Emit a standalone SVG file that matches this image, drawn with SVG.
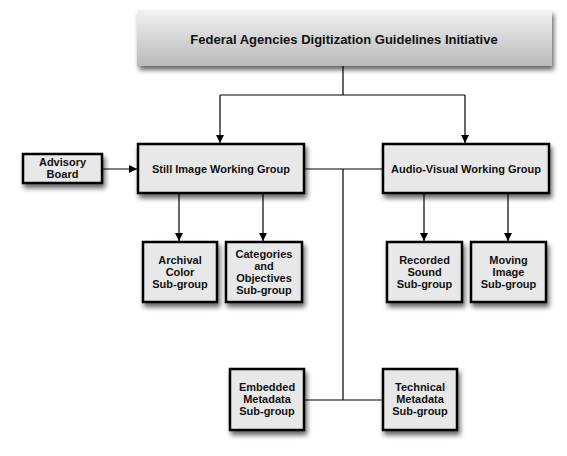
<svg xmlns="http://www.w3.org/2000/svg" width="567" height="456" viewBox="0 0 567 456">
<defs>
<linearGradient id="g" x1="0" y1="0" x2="0" y2="1"><stop offset="0" stop-color="#f2f2f2"/><stop offset="1" stop-color="#b9b9b9"/></linearGradient>
<filter id="sh" x="-20%" y="-20%" width="150%" height="160%"><feGaussianBlur in="SourceAlpha" stdDeviation="2.5"/><feOffset dx="2" dy="4"/><feComponentTransfer><feFuncA type="linear" slope="0.6"/></feComponentTransfer><feMerge><feMergeNode/><feMergeNode in="SourceGraphic"/></feMerge></filter>
<marker id="ah" viewBox="0 0 10 10" refX="10" refY="5" markerWidth="8" markerHeight="8" markerUnits="userSpaceOnUse" orient="auto"><path d="M0,0 L10,5 L0,10 z" fill="#000"/></marker>
<style>
.box{fill:#e8e8e8;stroke:#000;stroke-width:2.5;filter:url(#sh)}
.t{font-family:"Liberation Sans",Arial,sans-serif;font-weight:bold;font-size:11px;fill:#111;text-anchor:middle}
.c{fill:none;stroke:#000;stroke-width:1.2}
.a{marker-end:url(#ah)}
</style>
</defs>
<g id="connectors">
<path class="c" d="M343,66 V95"/>
<path class="c" d="M220,95 H465"/>
<path class="c a" d="M220,95 V143"/>
<path class="c a" d="M465,95 V143"/>
<path class="c a" d="M102,169 H137"/>
<path class="c" d="M304,169 H383"/>
<path class="c" d="M343,169 V400"/>
<path class="c" d="M304,400 H383"/>
<path class="c a" d="M179,194 V241"/>
<path class="c a" d="M263,194 V241"/>
<path class="c a" d="M424,194 V241"/>
<path class="c a" d="M508,194 V241"/>
</g>
<g id="fadgi">
<rect x="137" y="10" width="415" height="56" fill="url(#g)" filter="url(#sh)"/>
<text class="t" x="344" y="44" style="font-size:13px">Federal Agencies Digitization Guidelines Initiative</text>
</g>
<g id="advisory">
<rect class="box" x="23" y="154" width="79" height="29"/>
<text class="t" x="62.5" y="166">Advisory</text>
<text class="t" x="62.5" y="178">Board</text>
</g>
<g id="still">
<rect class="box" x="138" y="144" width="166" height="49"/>
<text class="t" x="221" y="173">Still Image Working Group</text>
</g>
<g id="av">
<rect class="box" x="383" y="144" width="166" height="49"/>
<text class="t" x="466" y="173">Audio-Visual Working Group</text>
</g>
<g id="archival">
<rect class="box" x="143" y="242" width="74" height="60"/>
<text class="t" x="180" y="264">Archival</text>
<text class="t" x="180" y="276">Color</text>
<text class="t" x="180" y="288">Sub-group</text>
</g>
<g id="categories">
<rect class="box" x="226" y="242" width="76" height="60"/>
<text class="t" x="264" y="258">Categories</text>
<text class="t" x="264" y="270">and</text>
<text class="t" x="264" y="282">Objectives</text>
<text class="t" x="264" y="294">Sub-group</text>
</g>
<g id="recorded">
<rect class="box" x="387" y="242" width="75" height="60"/>
<text class="t" x="424.5" y="264">Recorded</text>
<text class="t" x="424.5" y="276">Sound</text>
<text class="t" x="424.5" y="288">Sub-group</text>
</g>
<g id="moving">
<rect class="box" x="471" y="242" width="75" height="60"/>
<text class="t" x="508.5" y="264">Moving</text>
<text class="t" x="508.5" y="276">Image</text>
<text class="t" x="508.5" y="288">Sub-group</text>
</g>
<g id="embedded">
<rect class="box" x="230" y="369" width="74" height="61"/>
<text class="t" x="267" y="391">Embedded</text>
<text class="t" x="267" y="403">Metadata</text>
<text class="t" x="267" y="415">Sub-group</text>
</g>
<g id="technical">
<rect class="box" x="383" y="369" width="74" height="61"/>
<text class="t" x="420" y="391">Technical</text>
<text class="t" x="420" y="403">Metadata</text>
<text class="t" x="420" y="415">Sub-group</text>
</g>
</svg>
